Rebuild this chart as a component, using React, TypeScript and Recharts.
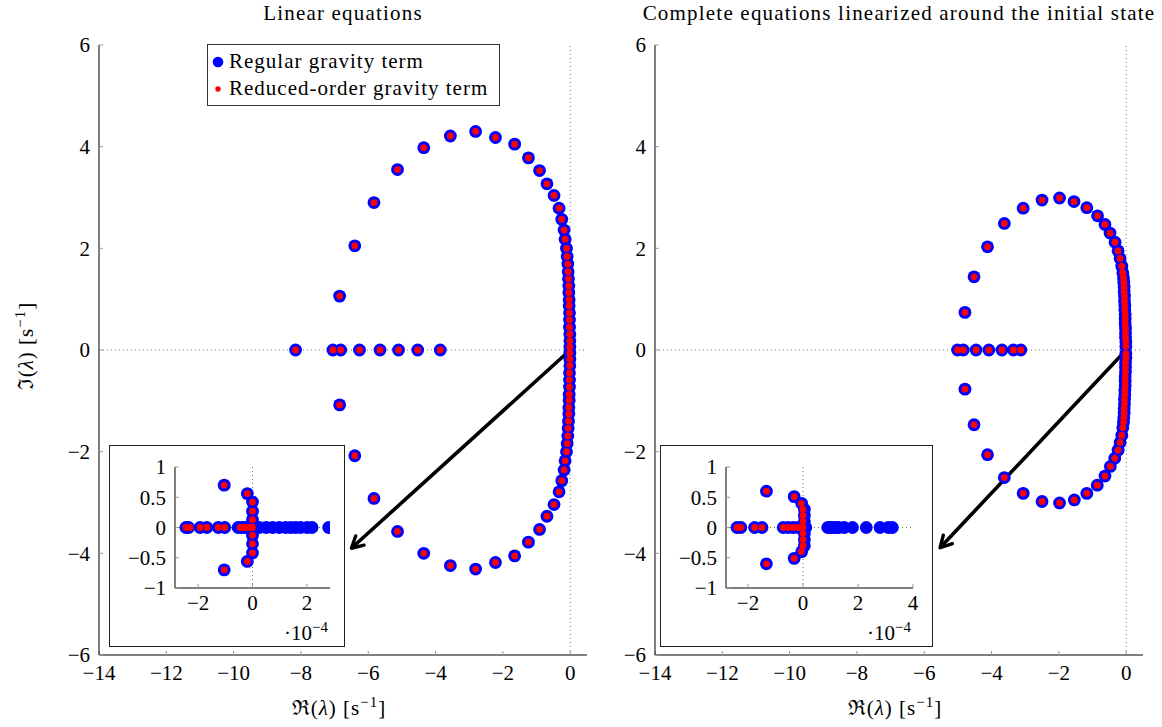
import React from "react";
import { ReferenceLine, Scatter, ScatterChart, XAxis, YAxis } from "recharts";

const FONT = "'Liberation Serif', 'DejaVu Serif', serif";
const FS = 21;

// eigenvalues [re, im], linear equations
const linearUpper = [
  [-6.85, 1.06], [-6.4, 2.05], [-5.83, 2.9], [-5.13, 3.55], [-4.35, 3.98], [-3.56, 4.21],
  [-2.81, 4.3], [-2.22, 4.18], [-1.65, 4.05], [-1.24, 3.78], [-0.91, 3.53], [-0.69, 3.27],
  [-0.48, 3.04], [-0.33, 2.79], [-0.25, 2.57], [-0.18, 2.36], [-0.15, 2.18], [-0.11, 2.0],
  [-0.09, 1.84], [-0.07, 1.69], [-0.06, 1.54], [-0.05, 1.4], [-0.04, 1.26], [-0.04, 1.13],
  [-0.03, 0.99], [-0.03, 0.87], [-0.02, 0.73], [-0.02, 0.59], [-0.02, 0.45], [-0.01, 0.31],
  [-0.01, 0.18], [-0.01, 0.06],
];
const linearLower = [
  [-6.85, -1.08], [-6.4, -2.08], [-5.83, -2.92], [-5.13, -3.57], [-4.35, -4.0], [-3.56, -4.24],
  [-2.81, -4.31], [-2.22, -4.18], [-1.65, -4.05], [-1.24, -3.78], [-0.91, -3.53], [-0.69, -3.27],
  [-0.48, -3.04], [-0.33, -2.79], [-0.25, -2.57], [-0.18, -2.36], [-0.15, -2.18], [-0.11, -2.0],
  [-0.09, -1.84], [-0.07, -1.69], [-0.06, -1.54], [-0.05, -1.4], [-0.04, -1.26], [-0.04, -1.13],
  [-0.03, -0.99], [-0.03, -0.87], [-0.02, -0.73], [-0.02, -0.59], [-0.02, -0.45], [-0.01, -0.31],
  [-0.01, -0.18], [-0.01, -0.06],
];
const linearReal = [
  [-8.16, 0], [-7.05, 0], [-6.82, 0], [-6.26, 0], [-5.65, 0], [-5.1, 0], [-4.53, 0], [-3.86, 0],
];

// eigenvalues [re, im], complete equations linearized
const completeUpper = [
  [-4.79, 0.74], [-4.52, 1.44], [-4.12, 2.03], [-3.62, 2.49], [-3.06, 2.79], [-2.5, 2.95],
  [-1.98, 2.99], [-1.55, 2.92], [-1.17, 2.8], [-0.85, 2.64], [-0.63, 2.47], [-0.48, 2.3],
  [-0.33, 2.12], [-0.24, 1.95], [-0.18, 1.8], [-0.13, 1.65], [-0.1, 1.52], [-0.08, 1.42],
  [-0.07, 1.33], [-0.06, 1.24], [-0.06, 1.15], [-0.05, 1.06], [-0.05, 0.97], [-0.04, 0.88],
  [-0.04, 0.79], [-0.03, 0.7], [-0.03, 0.61], [-0.03, 0.52], [-0.02, 0.43], [-0.02, 0.34],
  [-0.02, 0.25], [-0.01, 0.16], [-0.01, 0.07],
];
const completeLower = [
  [-4.79, -0.77], [-4.52, -1.47], [-4.12, -2.06], [-3.62, -2.51], [-3.06, -2.82], [-2.5, -2.98],
  [-1.98, -3.01], [-1.54, -2.95], [-1.17, -2.82], [-0.86, -2.66], [-0.63, -2.48], [-0.47, -2.29],
  [-0.34, -2.13], [-0.24, -1.97], [-0.18, -1.82], [-0.13, -1.68], [-0.1, -1.53], [-0.08, -1.42],
  [-0.07, -1.33], [-0.06, -1.24], [-0.06, -1.15], [-0.05, -1.06], [-0.05, -0.97], [-0.04, -0.88],
  [-0.04, -0.79], [-0.03, -0.7], [-0.03, -0.61], [-0.03, -0.52], [-0.02, -0.43], [-0.02, -0.34],
  [-0.02, -0.25], [-0.01, -0.16], [-0.01, -0.07],
];
const completeReal = [
  [-5.01, 0], [-4.84, 0], [-4.46, 0], [-4.08, 0], [-3.69, 0], [-3.35, 0], [-3.13, 0],
];

// zoom near the origin, re in 1e-4
const insetLinearRegular = [
  [-2.45, 0], [-2.35, 0], [-1.93, 0], [-1.68, 0], [-1.26, 0], [-1.02, 0], [-0.53, 0], [-0.41, 0],
  [-0.3, 0], [-0.2, 0], [-0.1, 0], [0, 0], [-1.04, 0.7], [-1.04, -0.7], [-0.19, 0.56], [-0.19, -0.56],
  [0, 0.42], [0, 0.27], [0, 0.13], [0, -0.13], [0, -0.27], [0, -0.42],
  [0.25, 0], [0.5, 0], [0.74, 0], [0.98, 0], [1.22, 0], [1.41, 0], [1.59, 0], [1.77, 0],
  [2.01, 0], [2.19, 0], [2.8, 0],
];
const insetLinearReduced = [
  [-2.45, 0], [-2.3, 0], [-1.93, 0], [-1.68, 0], [-1.26, 0], [-1.02, 0], [-0.45, 0], [-0.35, 0],
  [-0.25, 0], [-0.15, 0], [-0.05, 0], [0, 0], [-1.04, 0.7], [-1.04, -0.7], [-0.19, 0.56], [-0.19, -0.56],
  [0, 0.42], [0, 0.27], [0, 0.13], [0, -0.13], [0, -0.27], [0, -0.42],
];
const insetCompleteRegular = [
  [-2.4, 0], [-2.26, 0], [-1.76, 0], [-1.49, 0], [-0.72, 0], [-0.54, 0], [-0.35, 0], [-0.17, 0],
  [0, 0], [0.1, 0], [-1.33, 0.6], [-1.33, -0.6], [-0.32, 0.51], [-0.32, -0.51],
  [-0.05, 0.4], [0.05, 0.3], [0.05, 0.2], [0.05, 0.1], [0.05, -0.1], [0.05, -0.2], [0.05, -0.3], [-0.05, -0.4],
  [0.9, 0], [1.0, 0], [1.1, 0], [1.2, 0], [1.3, 0], [1.5, 0], [1.8, 0], [2.3, 0], [2.8, 0],
  [3.1, 0], [3.25, 0],
];
const insetCompleteReduced = [
  [-2.4, 0], [-2.26, 0], [-1.76, 0], [-1.49, 0], [-0.72, 0], [-0.54, 0], [-0.35, 0], [-0.17, 0],
  [0, 0], [-1.33, 0.6], [-1.33, -0.6], [-0.32, 0.51], [-0.32, -0.51],
  [-0.06, 0.4], [0, 0.3], [0, 0.2], [0, 0.1], [0, -0.1], [0, -0.2], [0, -0.3], [-0.06, -0.4],
];

const reTicks = [-14, -12, -10, -8, -6, -4, -2, 0];
const imTicks = [-6, -4, -2, 0, 2, 4, 6];
const insetLinearTicks = [-2, 0, 2];
const insetCompleteTicks = [-2, 0, 2, 4];
const insetImTicks = [-1, -0.5, 0, 0.5, 1];

const pts = (pairs: number[][]) => pairs.map(([re, im]) => ({ re, im }));
const fmt = (v: number) => (v < 0 ? "\u2212" + Math.abs(v) : String(v));

const tickStyle = { fontFamily: FONT, fontSize: FS, fill: "#000" };

const BlueDot = (p: any) => <circle cx={p.cx} cy={p.cy} r={6.4} fill="#0000ff" />;
const RedDot = (p: any) => <circle cx={p.cx} cy={p.cy} r={3.4} fill="#ff0000" />;

function Arrow(p: any) {
  const { x1, y1, x2, y2 } = p;
  const a = Math.atan2(y2 - y1, x2 - x1);
  const len = 13;
  const w = 0.5;
  const d = `M${x2 - len * Math.cos(a - w)},${y2 - len * Math.sin(a - w)} L${x2},${y2} L${x2 - len * Math.cos(a + w)},${y2 - len * Math.sin(a + w)}`;
  return (
    <g>
      <line x1={x1} y1={y1} x2={x2} y2={y2} stroke="#000" strokeWidth={3.6} />
      <path d={d} fill="none" stroke="#000" strokeWidth={3.4} strokeLinecap="round" strokeLinejoin="round" />
    </g>
  );
}

function AxisText({ x, y, letter, rotate }: { x: number; y: number; letter: string; rotate?: boolean }) {
  return (
    <text
      x={x}
      y={y}
      transform={rotate ? `rotate(-90, ${x}, ${y})` : undefined}
      textAnchor="middle"
      fill="#000"
      style={{ fontFamily: FONT, fontSize: FS, letterSpacing: 1 }}
    >
      <tspan>{letter}(</tspan>
      <tspan fontStyle="italic">λ</tspan>
      <tspan>) [s</tspan>
      <tspan dy={-8} style={{ fontSize: 15 }}>−1</tspan>
      <tspan dy={8}>]</tspan>
    </text>
  );
}

function ReLabel(props: any) {
  const vb = props.viewBox;
  return <AxisText x={vb.x + vb.width / 2 - 4} y={vb.y + 60} letter="ℜ" />;
}

function ImLabel(props: any) {
  const vb = props.viewBox;
  return <AxisText x={vb.x + vb.width - 66} y={vb.y + vb.height / 2 - 4} letter="ℑ" rotate />;
}

function ScaleLabel(props: any) {
  const vb = props.viewBox;
  return (
    <text x={vb.x + vb.width - 2} y={vb.y + 52} textAnchor="end" fill="#000" style={{ fontFamily: FONT, fontSize: FS }}>
      <tspan>·10</tspan>
      <tspan dy={-8} style={{ fontSize: 15 }}>−4</tspan>
    </text>
  );
}

type MainProps = {
  left: number;
  title: string;
  points: { re: number; im: number }[];
  tip: { x: number; y: number };
  showImLabel: boolean;
};

function MainPlot({ left, title, points, tip, showImLabel }: MainProps) {
  return (
    <div style={{ position: "absolute", left, top: 0, width: 600, height: 727 }}>
      <div style={{ position: "absolute", left: 343, top: 3, transform: "translateX(-50%)", fontFamily: FONT, fontSize: FS, lineHeight: "20px", letterSpacing: 1.2, whiteSpace: "nowrap" }}>
        {title}
      </div>
      <ScatterChart width={600} height={727} margin={{ top: 45, right: 600 - 99 - 488, bottom: 12, left: 39 }}>
        <XAxis
          type="number"
          dataKey="re"
          domain={[-14, 0.5]}
          ticks={reTicks}
          interval={0}
          allowDataOverflow
          tickFormatter={fmt}
          height={60}
          tickSize={-4}
          tickMargin={14}
          tick={tickStyle}
          axisLine={{ stroke: "#000" }}
          tickLine={{ stroke: "#999" }}
          label={<ReLabel />}
        />
        <YAxis
          type="number"
          dataKey="im"
          domain={[-6, 6]}
          ticks={imTicks}
          interval={0}
          allowDataOverflow
          tickFormatter={fmt}
          width={60}
          tickSize={-4}
          tickMargin={13}
          tick={tickStyle}
          axisLine={{ stroke: "#000" }}
          tickLine={{ stroke: "#999" }}
          label={showImLabel ? <ImLabel /> : undefined}
        />
        <ReferenceLine y={0} stroke="#777" strokeDasharray="1 3" />
        <ReferenceLine x={0} stroke="#777" strokeDasharray="1 3" />
        <Scatter data={points} shape={BlueDot} isAnimationActive={false} />
        <Scatter data={points} shape={RedDot} isAnimationActive={false} />
        <ReferenceLine segment={[{ x: 0, y: 0 }, tip]} shape={Arrow} />
      </ScatterChart>
    </div>
  );
}

type InsetProps = {
  left: number;
  width: number;
  plotWidth: number;
  domain: [number, number];
  ticks: number[];
  regular: { re: number; im: number }[];
  reduced: { re: number; im: number }[];
};

function InsetPlot({ left, width, plotWidth, domain, ticks, regular, reduced }: InsetProps) {
  const inner = width - 2;
  return (
    <div style={{ position: "absolute", left, top: 445, width, height: 202, border: "1px solid #222", background: "#fff", boxSizing: "border-box" }}>
      <ScatterChart width={inner} height={200} margin={{ top: 21, right: inner - 65 - plotWidth, bottom: 0, left: 5 }}>
        <XAxis
          type="number"
          dataKey="re"
          domain={domain}
          ticks={ticks}
          interval={0}
          allowDataOverflow
          tickFormatter={fmt}
          height={58}
          tickSize={-4}
          tickMargin={11}
          tick={tickStyle}
          axisLine={{ stroke: "#000" }}
          tickLine={{ stroke: "#999" }}
          label={<ScaleLabel />}
        />
        <YAxis
          type="number"
          dataKey="im"
          domain={[-1, 1]}
          ticks={insetImTicks}
          interval={0}
          allowDataOverflow
          tickFormatter={fmt}
          width={60}
          tickSize={-4}
          tickMargin={13}
          tick={tickStyle}
          axisLine={{ stroke: "#000" }}
          tickLine={{ stroke: "#999" }}
        />
        <ReferenceLine y={0} stroke="#777" strokeDasharray="1 3" />
        <ReferenceLine x={0} stroke="#777" strokeDasharray="1 3" />
        <Scatter data={regular} shape={BlueDot} isAnimationActive={false} />
        <Scatter data={reduced} shape={RedDot} isAnimationActive={false} />
      </ScatterChart>
    </div>
  );
}

function LegendBox() {
  const row = { display: "flex", alignItems: "center", height: 27 } as const;
  return (
    <div style={{ position: "absolute", left: 207, top: 44, width: 293, height: 62, boxSizing: "border-box", border: "1px solid #333", background: "#fff", padding: "3px 0 0 3px", fontFamily: FONT, fontSize: FS, letterSpacing: 1, whiteSpace: "nowrap" }}>
      <div style={row}>
        <svg width={14} height={14} style={{ marginRight: 4 }}><circle cx={7} cy={7} r={5.3} fill="#0000ff" /></svg>
        Regular gravity term
      </div>
      <div style={row}>
        <svg width={14} height={14} style={{ marginRight: 4 }}><circle cx={7} cy={7} r={2.7} fill="#ff0000" /></svg>
        Reduced-order gravity term
      </div>
    </div>
  );
}

export default function App() {
  const linear = pts([...linearReal, ...linearUpper, ...linearLower]);
  const complete = pts([...completeReal, ...completeUpper, ...completeLower]);
  return (
    <div style={{ position: "absolute", left: 0, top: 0, width: 1162, height: 727, background: "#fff", overflow: "hidden", fontFamily: FONT }}>
      <style>{`svg text, svg tspan { font-family: 'Liberation Serif', 'DejaVu Serif', serif; }`}</style>
      <MainPlot left={0} title="Linear equations" points={linear} tip={{ x: -6.5, y: -3.9 }} showImLabel />
      <MainPlot left={556} title="Complete equations linearized around the initial state" points={complete} tip={{ x: -5.53, y: -3.89 }} showImLabel={false} />
      <LegendBox />
      <InsetPlot left={109} width={236} plotWidth={155} domain={[-2.85, 2.85]} ticks={insetLinearTicks} regular={pts(insetLinearRegular)} reduced={pts(insetLinearReduced)} />
      <InsetPlot left={660} width={273} plotWidth={187} domain={[-2.8, 4]} ticks={insetCompleteTicks} regular={pts(insetCompleteRegular)} reduced={pts(insetCompleteReduced)} />
    </div>
  );
}
